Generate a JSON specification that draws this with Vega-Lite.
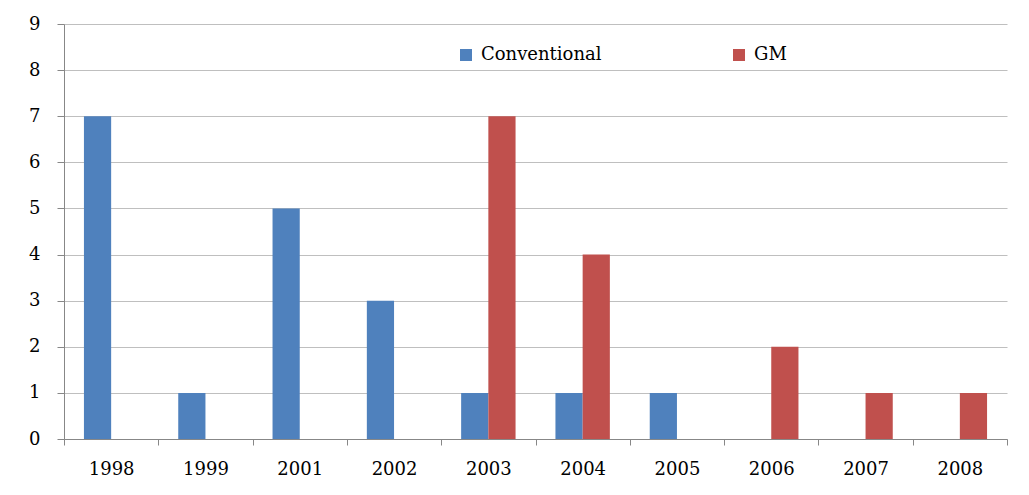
{
  "$schema": "https://vega.github.io/schema/vega-lite/v6.json",
  "autosize": {"type": "none"},
  "padding": {"left": 64, "top": 24, "right": 22, "bottom": 56},
  "width": 943,
  "height": 415,
  "background": "white",
  "data": {
    "values": [
      {"year": "1998", "type": "Conventional", "count": 7},
      {"year": "1999", "type": "Conventional", "count": 1},
      {"year": "2001", "type": "Conventional", "count": 5},
      {"year": "2002", "type": "Conventional", "count": 3},
      {"year": "2003", "type": "Conventional", "count": 1},
      {"year": "2003", "type": "GM", "count": 7},
      {"year": "2004", "type": "Conventional", "count": 1},
      {"year": "2004", "type": "GM", "count": 4},
      {"year": "2005", "type": "Conventional", "count": 1},
      {"year": "2006", "type": "GM", "count": 2},
      {"year": "2007", "type": "GM", "count": 1},
      {"year": "2008", "type": "GM", "count": 1}
    ]
  },
  "mark": {"type": "bar"},
  "encoding": {
    "x": {
      "field": "year",
      "type": "nominal",
      "scale": {"domain": ["1998","1999","2001","2002","2003","2004","2005","2006","2007","2008"], "paddingInner": 0, "paddingOuter": 0},
      "axis": {
        "title": null,
        "labelAngle": 0,
        "tickBand": "extent",
        "domainColor": "#878787",
        "tickColor": "#878787",
        "tickSize": 6,
        "labelFont": "DejaVu Serif",
        "labelFontSize": 18,
        "labelColor": "#000000",
        "labelPadding": 15,
        "grid": false
      }
    },
    "xOffset": {
      "field": "type",
      "type": "nominal",
      "scale": {"domain": ["Conventional", "GM"], "paddingInner": 0, "paddingOuter": 0.733}
    },
    "y": {
      "field": "count",
      "type": "quantitative",
      "scale": {"domain": [0, 9], "nice": false},
      "axis": {
        "title": null,
        "values": [0,1,2,3,4,5,6,7,8,9],
        "grid": true,
        "gridColor": "#bfbfbf",
        "domainColor": "#878787",
        "tickColor": "#878787",
        "tickSize": 7,
        "labelFont": "DejaVu Serif",
        "labelFontSize": 18,
        "labelColor": "#000000",
        "labelPadding": 17
      }
    },
    "color": {
      "field": "type",
      "type": "nominal",
      "scale": {"domain": ["Conventional", "GM"], "range": ["#4F81BD", "#C0504D"]},
      "legend": {
        "title": null,
        "orient": "none",
        "direction": "horizontal",
        "legendX": 393,
        "legendY": 22,
        "padding": 0,
        "symbolType": "square",
        "symbolSize": 144,
        "symbolStrokeWidth": 0,
        "symbolOpacity": 1,
        "labelFont": "DejaVu Serif",
        "labelFontSize": 18,
        "labelColor": "#000000",
        "labelOffset": 6,
        "columnPadding": 128,
        "labelLimit": 300
      }
    }
  },
  "config": {
    "view": {"stroke": null}
  }
}
